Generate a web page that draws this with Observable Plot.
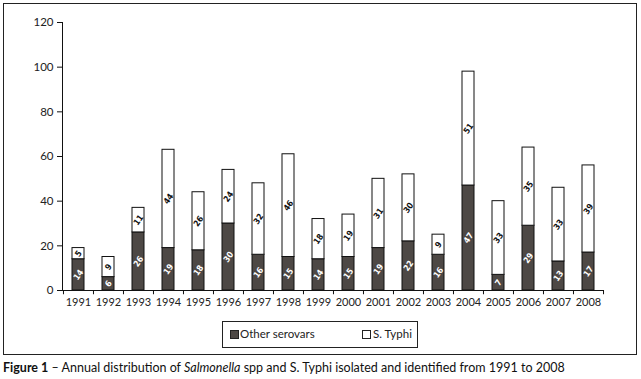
<!DOCTYPE html>
<html>
<head>
<meta charset="utf-8">
<script src="https://cdn.jsdelivr.net/npm/d3@7"></script>
<script src="https://cdn.jsdelivr.net/npm/@observablehq/plot@0.6"></script>
<style>
  body { margin: 0; background: #fff; font-family: Lato, "Noto Sans", sans-serif; }
  #frame { position: absolute; left: 3px; top: 3px; width: 634px; height: 352px; border: 1.5px solid #222; box-sizing: border-box; }
  #chart { position: absolute; left: 0; top: 0; }
  #legend { position: absolute; left: 222px; top: 321px; width: 196px; height: 27px; border: 1.3px solid #222; box-sizing: border-box; font-size: 11.5px; color: #222; }
  .sw { position: absolute; top: 8px; width: 9px; height: 9px; border: 1px solid #222; box-sizing: border-box; }
  .lt { position: absolute; top: 5px; }
  #caption { position: absolute; left: 3px; top: 360px; font-size: 12.5px; color: #111; white-space: nowrap; }
</style>
</head>
<body>
<div id="frame"></div>
<div id="chart"></div>
<div id="legend">
  <div class="sw" style="left:7px;background:#4d4845"></div><div class="lt" style="left:17px">Other serovars</div>
  <div class="sw" style="left:139px;background:#fff"></div><div class="lt" style="left:150px">S. Typhi</div>
</div>
<div id="caption"><b>Figure 1</b> – Annual distribution of <i>Salmonella</i> spp and S. Typhi isolated and identified from 1991 to 2008</div>
<script>
const years = ["1991","1992","1993","1994","1995","1996","1997","1998","1999","2000","2001","2002","2003","2004","2005","2006","2007","2008"];
const otherSerovars = [14, 6, 26, 19, 18, 30, 16, 15, 14, 15, 19, 22, 16, 47, 7, 29, 13, 17];
const sTyphi = [5, 9, 11, 44, 26, 24, 32, 46, 18, 19, 31, 30, 9, 51, 33, 35, 33, 39];
const seriesNames = ["Other serovars", "S. Typhi"];
const yTicks = [0, 20, 40, 60, 80, 100, 120];

const data = [];
years.forEach((y, i) => data.push({year: y, series: seriesNames[0], value: otherSerovars[i]}));
years.forEach((y, i) => data.push({year: y, series: seriesNames[1], value: sTyphi[i]}));

const W = 641, ML = 62, MR = 38;
const step = (W - ML - MR) / years.length;

const chart = Plot.plot({
  width: W,
  height: 310,
  marginLeft: ML,
  marginRight: MR,
  marginTop: 22,
  marginBottom: 20,
  style: {fontFamily: "Lato, 'Noto Sans', sans-serif", fontSize: "11px", color: "#222", background: "transparent"},
  x: {domain: years, paddingInner: 0.6, paddingOuter: 0.3, label: null},
  y: {domain: [0, 120], label: null},
  color: {domain: seriesNames, range: ["#4d4845", "#ffffff"]},
  marks: [
    Plot.barY(data, {x: "year", y: "value", z: "series", fill: "series", stroke: "#111", strokeWidth: 1, order: seriesNames}),
    Plot.text(data, Plot.stackY({x: "year", y: "value", z: "series", order: seriesNames,
      text: d => String(d.value), rotate: -55,
      fill: d => d.series === seriesNames[0] ? "#fff" : "#111",
      fontSize: 8.5, fontWeight: "bold",
      fontFamily: "'DejaVu Sans Condensed', 'Liberation Sans Narrow', Roboto, sans-serif"})),
    Plot.frame({anchor: "left", stroke: "#111"}),
    Plot.frame({anchor: "bottom", stroke: "#111"}),
    Plot.ruleX(years, {x: d => d, y1: 0, y2: -1.9, dx: -step / 2, stroke: "#111"}),
    Plot.ruleX([years[years.length - 1]], {x: d => d, y1: 0, y2: -1.9, dx: step / 2, stroke: "#111"}),
    Plot.axisY({ticks: yTicks, tickSize: 5, tickPadding: 4, stroke: "#111", fontSize: 11.5}),
    Plot.axisX({tickSize: 0, tickPadding: 8, fontSize: 11})
  ]
});
document.getElementById("chart").appendChild(chart);
</script>
</body>
</html>
